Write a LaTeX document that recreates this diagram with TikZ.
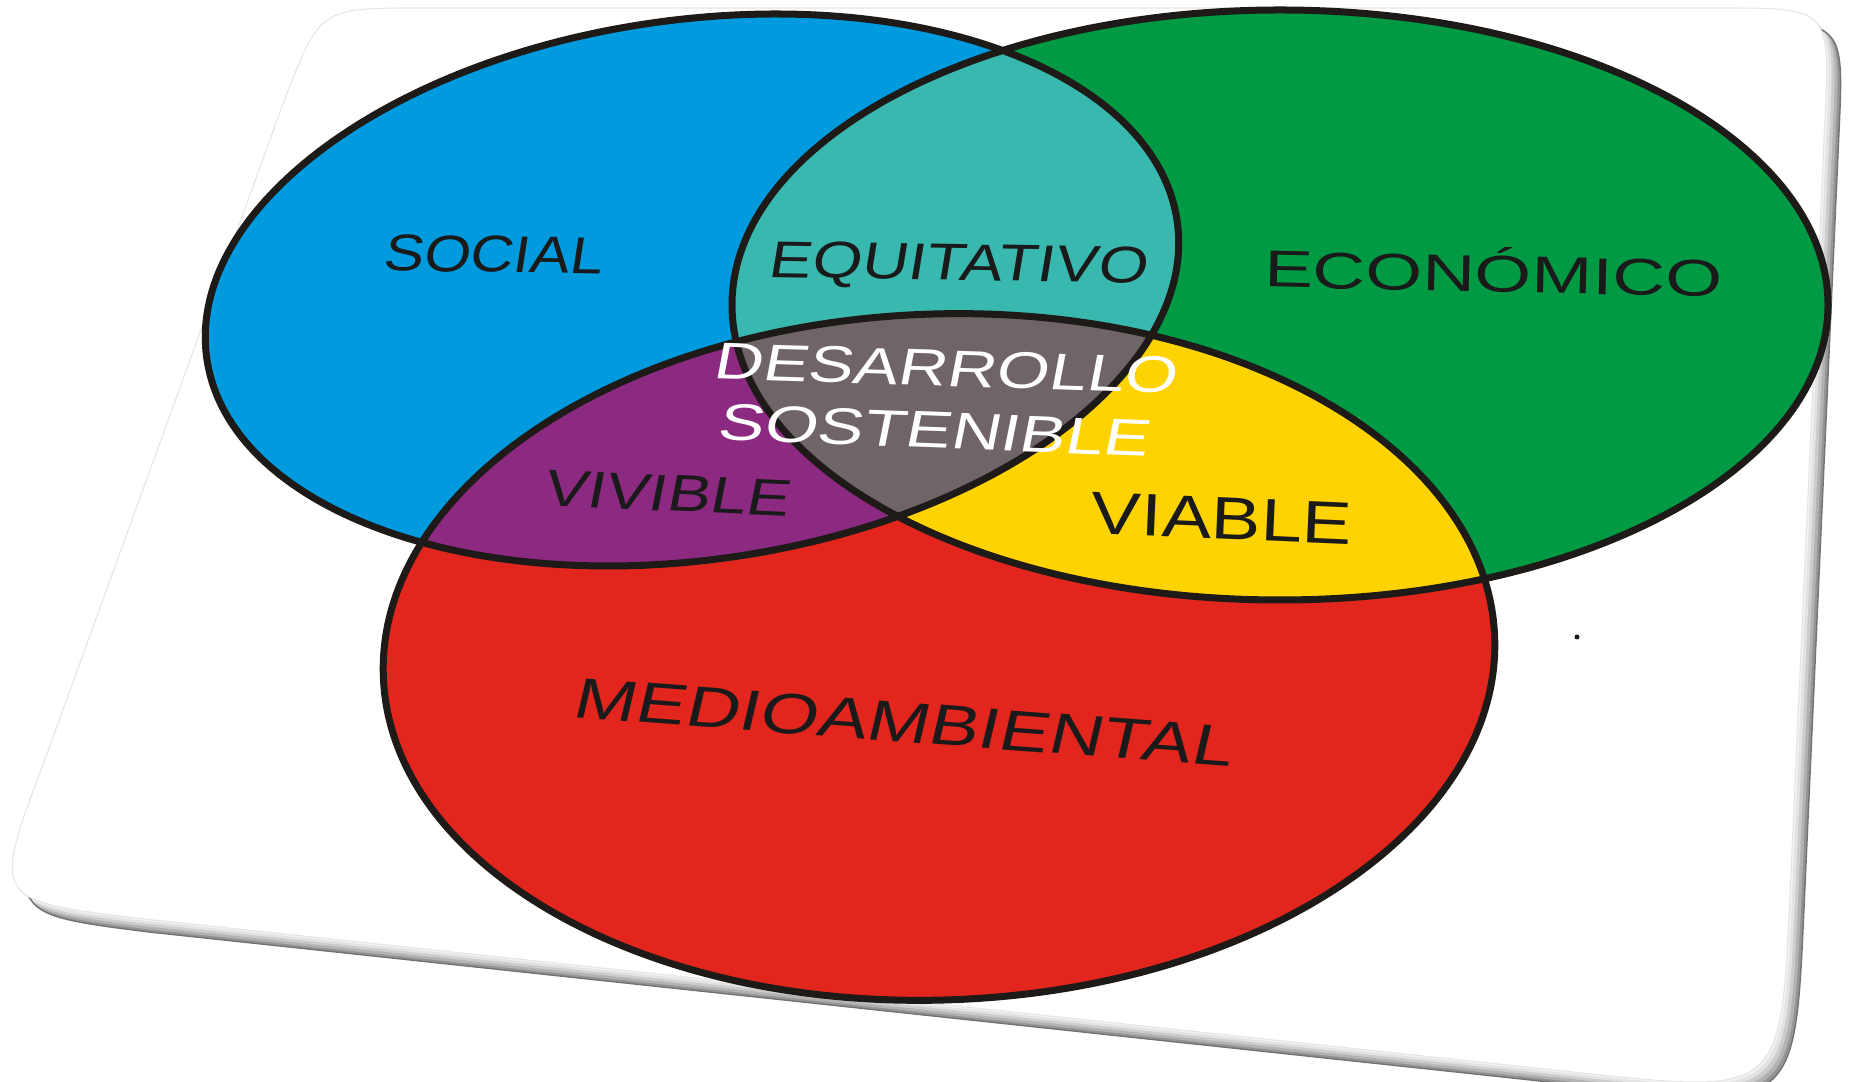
\documentclass[tikz,border=0pt]{standalone}
\usepackage{fontspec}
\setmainfont{Liberation Sans}
\newfontfamily\tiltfont{Liberation Sans}[FakeSlant=0.12]
\definecolor{azul}{HTML}{009BDF}
\definecolor{verde}{HTML}{009A44}
\definecolor{rojo}{HTML}{E2261E}
\definecolor{turquesa}{HTML}{38B8AE}
\definecolor{morado}{HTML}{8C2A82}
\definecolor{amarillo}{HTML}{FFD300}
\definecolor{gris}{HTML}{6F6468}
\definecolor{contorno}{HTML}{1E1A17}
\definecolor{tinta}{HTML}{1A1A1A}
\tikzstyle{ring} = [line width=0.07cm, draw=contorno]
\tikzstyle{ejesocial} = [rotate around={8:(692,792)}]
\tikzstyle{ejeambiental} = [rotate around={2:(939,425)}]
\tikzstyle{rotulo} = [anchor=base, inner sep=0pt, text depth=0pt, text=tinta, font=\fontsize{14.7}{17}\selectfont]
\tikzstyle{inclinado} = [rotulo, font=\tiltfont\fontsize{14.7}{17}\selectfont]
\newcommand{\tilepath}{(420,1074) -- (1720,1074) .. controls (1830,1074) .. (1825,964) -- (1790,188) .. controls (1781,-12) .. (1582,9) -- (135,164) .. controls (-8,182) .. (44,320) -- (284,981) .. controls (320,1074) .. (420,1074) -- cycle}

\begin{document}
\begin{tikzpicture}[x=0.01cm, y=0.01cm]
	\useasboundingbox (0,0) rectangle (1854,1082);
	% tile and its edge
	\foreach \k/\c in {14/42, 11/30, 8/20, 5/11, 2/5}
		\fill[black!\c, shift={(\k,-\k)}] \tilepath;
	\draw[black!55, line width=0.4pt, shift={(14,-14)}] \tilepath;
	\fill[white] \tilepath;
	\draw[black!10, line width=0.3pt] \tilepath;

	% the three sets
	\fill[azul, ejesocial] (692,792) ellipse (490 and 270);
	\fill[verde] (1280,777) ellipse (548 and 295);
	\fill[rojo, ejeambiental] (939,425) ellipse (556 and 343);
	\begin{scope}
		\clip (1280,777) ellipse (548 and 295);
		\fill[amarillo, ejeambiental] (939,425) ellipse (556 and 343);
	\end{scope}
	\begin{scope}
		\clip[ejesocial] (692,792) ellipse (490 and 270);
		\fill[turquesa] (1280,777) ellipse (548 and 295);
		\fill[morado, ejeambiental] (939,425) ellipse (556 and 343);
		\clip (1280,777) ellipse (548 and 295);
		\fill[gris, ejeambiental] (939,425) ellipse (556 and 343);
	\end{scope}
	\draw[ring, ejesocial] (692,792) ellipse (490 and 270);
	\draw[ring] (1280,777) ellipse (548 and 295);
	\draw[ring, ejeambiental] (939,425) ellipse (556 and 343);
	\fill[tinta] (1577,445) circle (2.5);

	\node[inclinado, rotate=-0.8, xscale=1.16] (social) at (492,810) {SOCIAL};
	\node[inclinado, rotate=-0.9, xscale=1.24] (equitativo) at (957,802) {EQUITATIVO};
	\node[rotulo, rotate=-1.25, xscale=1.41] (economico) at (1493,790) {ECONÓMICO};
	\node[inclinado, text=white, rotate=-1.8, xscale=1.31] (desarrollo) at (944,696) {DESARROLLO};
	\node[inclinado, text=white, rotate=-2.2, xscale=1.33] (sostenible) at (932,634) {SOSTENIBLE};
	\node[inclinado, rotate=-2.5, xscale=1.26] (vivible) at (665,571) {VIVIBLE};
	\node[rotulo, rotate=-2.5, xscale=1.44, yscale=1.16] (viable) at (1221,543) {VIABLE};
	\node[inclinado, rotate=-4.3, xscale=1.44, yscale=1.11] (medioambiental) at (901,340) {MEDIOAMBIENTAL};
\end{tikzpicture}
\end{document}
